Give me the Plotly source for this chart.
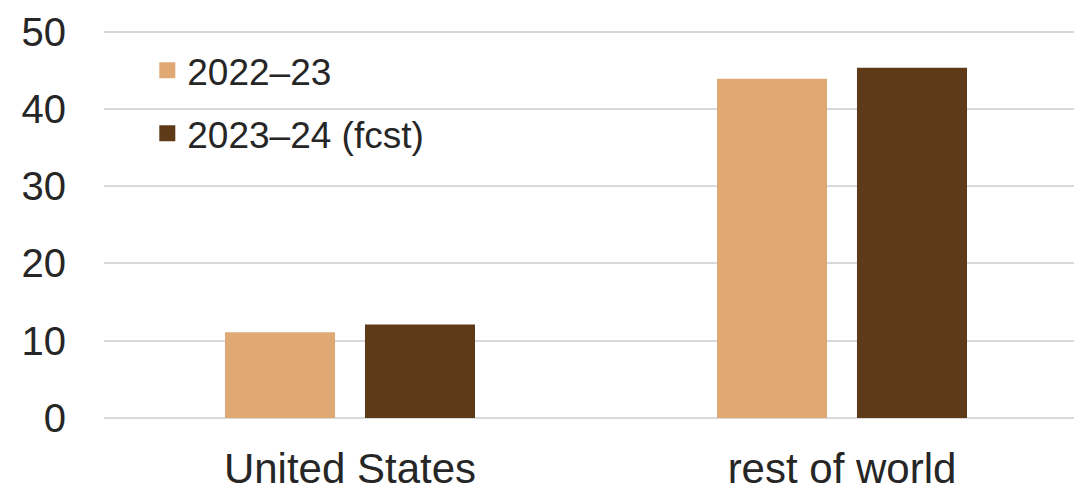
import plotly.graph_objects as go

categories = ["United States", "rest of world"]
series_names = ["2022–23", "2023–24 (fcst)"]
values_2022_23 = [11.1, 43.9]
values_2023_24 = [12.1, 45.3]
colors = ["#E0A873", "#5E3A18"]
y_ticks = [0, 10, 20, 30, 40, 50]

fig = go.Figure()
for name, vals, col, grp in zip(series_names, [values_2022_23, values_2023_24], colors, ["a", "b"]):
    fig.add_trace(go.Bar(x=categories, y=vals, name=name, marker_color=col,
                         marker_line_width=0, legendgroup=grp, showlegend=False))
    # legend-only entry with a larger square swatch
    fig.add_trace(go.Scatter(x=[None], y=[None], mode="markers", name=name,
                             marker=dict(symbol="square", size=20, color=col),
                             legendgroup=grp, showlegend=True, hoverinfo="skip"))

fig.update_layout(
    width=1082, height=496,
    margin=dict(l=96, r=2, t=22, b=86),
    paper_bgcolor="white", plot_bgcolor="white",
    font=dict(family="Liberation Sans, Arial, sans-serif", color="#262626", size=40),
    barmode="group", bargap=0.431, bargroupgap=0.214,
    legend=dict(x=0.044, y=0.975, xanchor="left", yanchor="top",
                font=dict(size=37), tracegroupgap=12, bgcolor="rgba(0,0,0,0)",
                itemsizing="trace"),
    xaxis=dict(showgrid=False, showline=False, ticks="", ticklabelstandoff=22,
               tickfont=dict(size=42), automargin=False),
    yaxis=dict(range=[0, 50.2], tickvals=y_ticks, showgrid=True, gridcolor="#D9D9D9",
               gridwidth=2, zeroline=True, zerolinecolor="#D9D9D9", zerolinewidth=2,
               showline=False, ticks="", ticklabelstandoff=37, tickfont=dict(size=40),
               automargin=False),
)

fig.write_html("out.html")
